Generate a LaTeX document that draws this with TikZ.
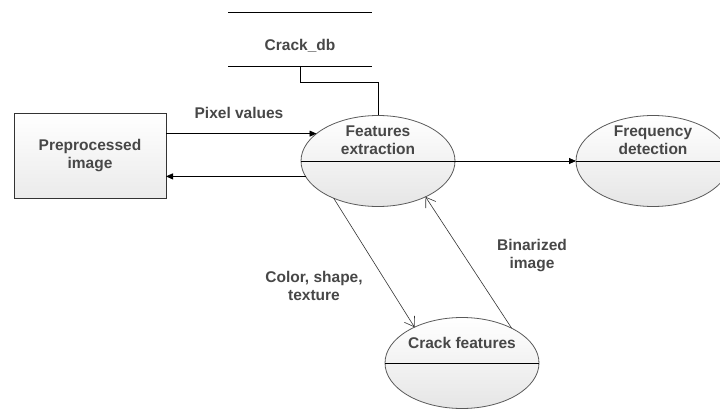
\documentclass[tikz,border=0pt]{standalone}
\usepackage{fontspec}
\setmainfont{Liberation Sans}
\usetikzlibrary{shapes.geometric,arrows.meta}
\begin{document}
\begin{tikzpicture}[x=1pt,y=-1pt,
    font=\bfseries\fontsize{15.5}{18}\selectfont,
    every node/.style={text=black!72},
    proc/.style={ellipse,draw=black!65,line width=0.8pt,top color=white,
      bottom color=black!10,minimum width=154pt,minimum height=91pt,
      inner sep=0pt,outer sep=0pt},
    ent/.style={rectangle,draw=black!80,line width=0.8pt,top color=white,
      bottom color=black!8,minimum width=152pt,minimum height=85pt,
      outer sep=0pt,align=center},
    store/.style={minimum width=144pt,minimum height=54pt,inner sep=0pt,outer sep=0pt},
    txt/.style={align=center,inner sep=0pt},
    flow/.style={-{Triangle[length=7pt,width=6pt]},line width=0.8pt},
    data/.style={-{Straight Barb[length=9pt,width=12pt]},line width=0.6pt,draw=black!80}]
  \useasboundingbox (0,0) rectangle (720,409);
  \node[ent] (pp) at (90,155.5) {Preprocessed\\image};
  \node[proc] (fe) at (378,161) {};
  \node[txt] (fe-text) at ([yshift=21pt]fe.center) {Features\\extraction};
  \node[proc] (fd) at (653,161) {};
  \node[txt] (fd-text) at ([yshift=21pt]fd.center) {Frequency\\detection};
  \node[proc] (cf) at (462,363) {};
  \node[txt] (cf-text) at ([yshift=20pt]cf.center) {Crack features};
  \node[store] (db) at (300,39) {};
  \node[txt] (db-text) at ([yshift=-7pt]db.center) {Crack\_db};
  \coordinate (bend) at (378,82);
  \node[txt] (pix) at (239,113) {Pixel values};
  \node[txt] (cst) at (314,285.5) {Color, shape,\\texture};
  \node[txt] (bin) at (532,255.5) {Binarized\\image};
  \begin{scope}[line width=0.8pt]
    \draw (db.north west) -- (db.north east);
    \draw (db.south west) -- (db.south east);
    \draw (db.south) |- (bend) -- (fe.north);
    \draw (fe.west) -- (fe.east);
    \draw (fd.west) -- (fd.east);
    \draw (cf.west) -- (cf.east);
  \end{scope}
  \draw[flow] (fe.156.5 -| pp.east) -- (fe.156.5);
  \draw[flow] (fe.192.5) -- (fe.192.5 -| pp.east);
  \draw[flow] (fe.east) -- (fd.west);
  \draw[data] (fe.220.3) -- (cf.143.1);
  \draw[data] (cf.35.8) -- (fe.323);
\end{tikzpicture}
\end{document}
